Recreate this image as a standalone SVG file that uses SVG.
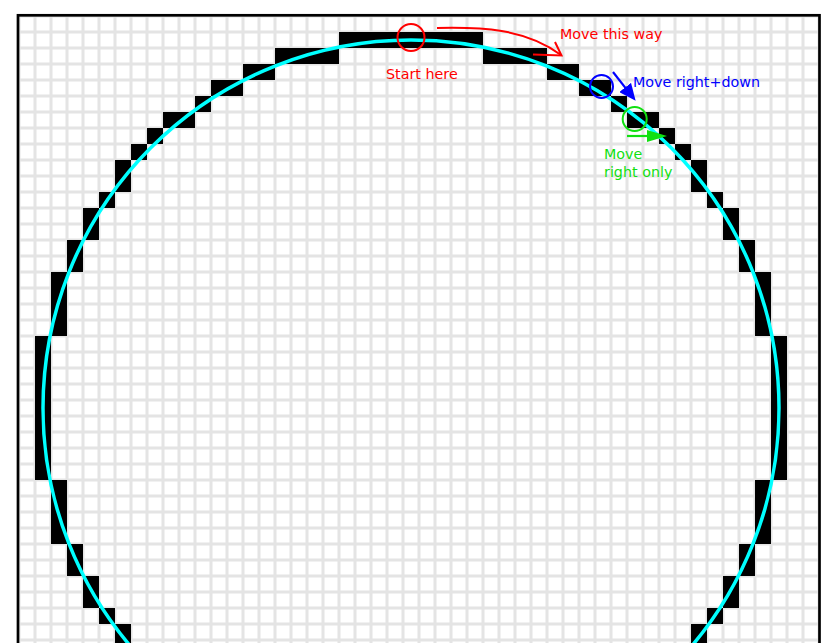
<svg xmlns="http://www.w3.org/2000/svg" width="823" height="643" viewBox="0 0 823 643">
<style>
.px{fill:#000}
.lbl{font-family:"DejaVu Sans","Liberation Sans",sans-serif;font-size:14.3px}
.red{fill:#ff0000}
.blue{fill:#0000ff}
.green{fill:#11e011}
.ring{fill:none;stroke-width:2}
</style>
<defs>
<pattern id="grid" x="19" y="16" width="16" height="16" patternUnits="userSpaceOnUse">
<rect width="16" height="16" fill="#ffffff"/>
<path d="M0 0H16M0 16H16M0 0V16M16 0V16" stroke="#e4e4e4" stroke-width="3" fill="none"/>
</pattern>
<marker id="headBlue" viewBox="0 0 17 15" refX="4" refY="7.5" markerWidth="17" markerHeight="15" markerUnits="userSpaceOnUse" orient="auto">
<path d="M0 0L17 7.5L0 15z" fill="#0000ff"/>
</marker>
<marker id="headGreen" viewBox="0 0 20 12" refX="4" refY="6" markerWidth="20" markerHeight="12" markerUnits="userSpaceOnUse" orient="auto">
<path d="M0 0L20 6L0 12z" fill="#11e011"/>
</marker>
</defs>
<rect x="0" y="0" width="823" height="643" fill="#ffffff"/>
<g id="board">
<rect x="19" y="16" width="800" height="640" fill="url(#grid)"/>
<rect x="18" y="15.3" width="801.5" height="700" fill="none" stroke="#000" stroke-width="2.7"/>
</g>
<g id="pixels">
<rect class="px" x="339" y="32" width="144" height="16"/>
<rect class="px" x="275" y="48" width="64" height="16"/>
<rect class="px" x="483" y="48" width="64" height="16"/>
<rect class="px" x="243" y="64" width="32" height="16"/>
<rect class="px" x="547" y="64" width="32" height="16"/>
<rect class="px" x="211" y="80" width="32" height="16"/>
<rect class="px" x="579" y="80" width="32" height="16"/>
<rect class="px" x="195" y="96" width="16" height="16"/>
<rect class="px" x="611" y="96" width="16" height="16"/>
<rect class="px" x="163" y="112" width="32" height="16"/>
<rect class="px" x="627" y="112" width="32" height="16"/>
<rect class="px" x="147" y="128" width="16" height="16"/>
<rect class="px" x="659" y="128" width="16" height="16"/>
<rect class="px" x="131" y="144" width="16" height="16"/>
<rect class="px" x="675" y="144" width="16" height="16"/>
<rect class="px" x="115" y="160" width="16" height="32"/>
<rect class="px" x="691" y="160" width="16" height="32"/>
<rect class="px" x="99" y="192" width="16" height="16"/>
<rect class="px" x="707" y="192" width="16" height="16"/>
<rect class="px" x="83" y="208" width="16" height="32"/>
<rect class="px" x="723" y="208" width="16" height="32"/>
<rect class="px" x="67" y="240" width="16" height="32"/>
<rect class="px" x="739" y="240" width="16" height="32"/>
<rect class="px" x="51" y="272" width="16" height="64"/>
<rect class="px" x="755" y="272" width="16" height="64"/>
<rect class="px" x="35" y="336" width="16" height="144"/>
<rect class="px" x="771" y="336" width="16" height="144"/>
<rect class="px" x="51" y="480" width="16" height="64"/>
<rect class="px" x="755" y="480" width="16" height="64"/>
<rect class="px" x="67" y="544" width="16" height="32"/>
<rect class="px" x="739" y="544" width="16" height="32"/>
<rect class="px" x="83" y="576" width="16" height="32"/>
<rect class="px" x="723" y="576" width="16" height="32"/>
<rect class="px" x="99" y="608" width="16" height="16"/>
<rect class="px" x="707" y="608" width="16" height="16"/>
<rect class="px" x="115" y="624" width="16" height="32"/>
<rect class="px" x="691" y="624" width="16" height="32"/>
</g>
<g id="ideal-circle">
<circle cx="411" cy="408" r="368" fill="none" stroke="#00ffff" stroke-width="3.5"/>
</g>
<g id="start">
<circle class="ring" cx="411" cy="37.5" r="13.5" stroke="#ff0000"/>
<text class="lbl red" x="386" y="79">Start here</text>
</g>
<g id="move-this-way">
<text class="lbl red" x="560" y="39">Move this way</text>
</g>
<g id="move-right-down">
<circle class="ring" cx="601.5" cy="86.5" r="11.5" stroke="#0000ff"/>
<text class="lbl blue" x="633" y="86.5">Move right+down</text>
</g>
<g id="move-right-only">
<circle class="ring" cx="634.7" cy="119" r="12" stroke="#11e011"/>
<text class="lbl green" x="604" y="159">Move</text>
<text class="lbl green" x="604" y="176.5">right only</text>
</g>
<g id="connectors">
<path d="M437 28C480 27 525 28 561 55" fill="none" stroke="#ff0000" stroke-width="2"/>
<path d="M555 42L561.5 55.5L533 54.5" fill="none" stroke="#ff0000" stroke-width="2"/>
<line x1="613" y1="72" x2="627.6" y2="90.6" stroke="#0000ff" stroke-width="2.2" marker-end="url(#headBlue)"/>
<line x1="627" y1="136" x2="651" y2="136" stroke="#11e011" stroke-width="2.2" marker-end="url(#headGreen)"/>
</g>
</svg>
